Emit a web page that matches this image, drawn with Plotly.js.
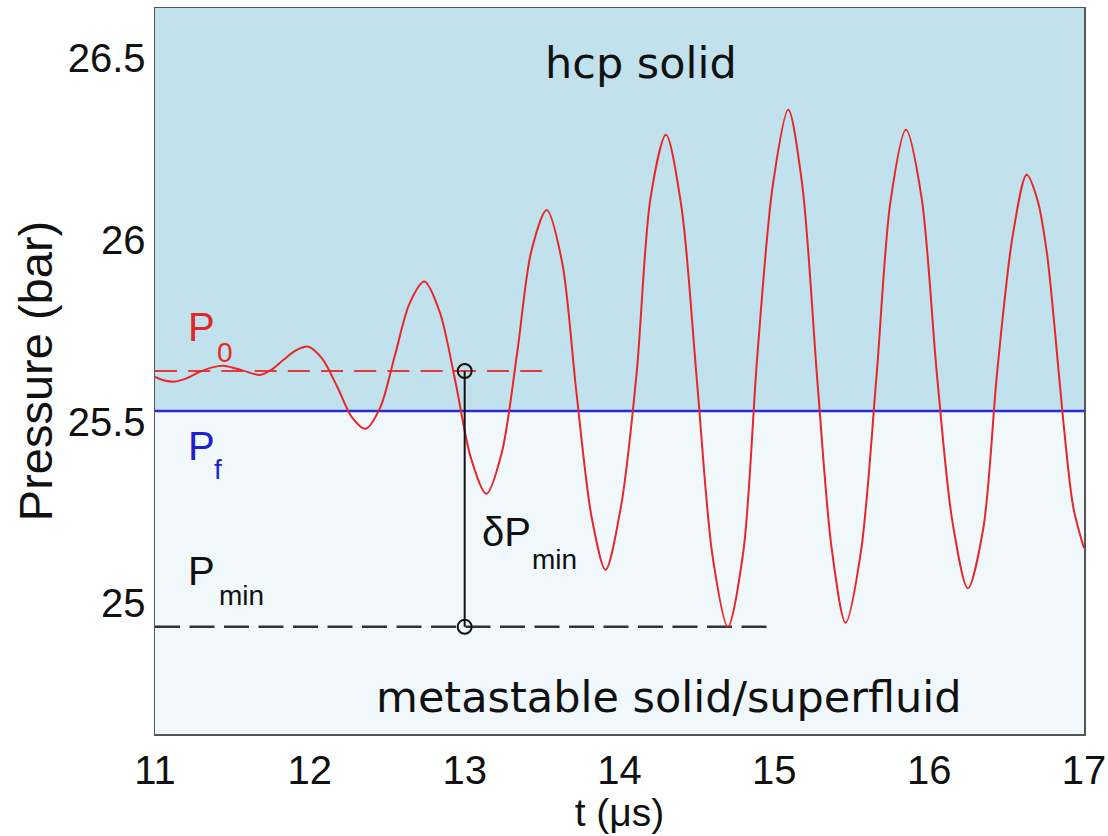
<!DOCTYPE html>
<html>
<head>
<meta charset="utf-8">
<script src="https://cdn.plot.ly/plotly-3.0.1.min.js"></script>
<style>
  html, body { margin: 0; padding: 0; background: #ffffff; }
  #chart { width: 1108px; height: 836px; }
</style>
</head>
<body>
<div id="chart"></div>
<script>
// ---- data ----
const time_us = [
  11.00, 11.06, 11.13, 11.21, 11.29, 11.37, 11.45, 11.57, 11.68, 11.76, 11.83, 11.91, 11.99,
  12.08, 12.18, 12.27, 12.36,
  12.455, 12.55, 12.645, 12.74,
  12.84, 12.94, 13.04, 13.14,
  13.24, 13.34, 13.43, 13.53,
  13.63, 13.72, 13.82, 13.91,
  14.01, 14.11, 14.20, 14.30,
  14.40, 14.50, 14.60, 14.70,
  14.80, 14.89, 14.99, 15.09,
  15.18, 15.28, 15.37, 15.46,
  15.56, 15.66, 15.75, 15.85,
  15.95, 16.05, 16.15, 16.25,
  16.35, 16.44, 16.54, 16.63,
  16.70, 16.76, 16.81, 16.86, 16.93, 17.00
];
const pressure_bar = [
  25.623, 25.613, 25.610, 25.620, 25.637, 25.649, 25.653, 25.640, 25.628, 25.645, 25.670, 25.696, 25.706,
  25.673, 25.593, 25.513, 25.480,
  25.539, 25.683, 25.826, 25.885,
  25.800, 25.610, 25.400, 25.301,
  25.415, 25.692, 25.968, 26.082,
  25.937, 25.587, 25.237, 25.092,
  25.267, 25.630, 26.114, 26.289,
  26.091, 25.612, 25.133, 24.935,
  25.143, 25.680, 26.150, 26.358,
  26.152, 25.600, 25.152, 24.946,
  25.144, 25.625, 26.105, 26.303,
  26.119, 25.630, 25.225, 25.041,
  25.207, 25.640, 26.013, 26.179,
  26.109, 25.965, 25.760, 25.529, 25.266, 25.151
];

const P0 = 25.639;      // initial pressure (dashed red)
const Pf = 25.529;      // freezing pressure (blue)
const Pmin = 24.935;    // minimum pressure (dashed black)
const tMark = 13.0;     // where delta P_min is marked
const tP0End = 13.5;
const tPminEnd = 14.95;

const xTicks = [11, 12, 13, 14, 15, 16, 17];
const yTicks = [25, 25.5, 26, 26.5];
const yTickText = ['25', '25.5', '26', '26.5'];
const xRange = [11, 17];
const yRange = [24.640, 26.638];

const regionTop = 'hcp solid';
const regionBottom = 'metastable solid/superfluid';
const xTitle = 't (μs)';
const yTitle = 'Pressure (bar)';

// ---- traces ----
const traces = [
  {
    x: [xRange[0], xRange[1]], y: [Pf, Pf], mode: 'lines',
    line: {color: '#2b2bd6', width: 2.5}, hoverinfo: 'skip', showlegend: false
  },
  {
    x: [xRange[0], tP0End], y: [P0, P0], mode: 'lines',
    line: {color: '#e23a3a', width: 2, dash: '22px,11.2px'}, hoverinfo: 'skip', showlegend: false
  },
  {
    x: [xRange[0], tPminEnd], y: [Pmin, Pmin], mode: 'lines',
    line: {color: '#333333', width: 2.5, dash: '25px,9.5px'}, hoverinfo: 'skip', showlegend: false
  },
  {
    x: time_us, y: pressure_bar, mode: 'lines',
    line: {color: '#e8262a', width: 2, shape: 'spline', smoothing: 0.85},
    showlegend: false
  },
  {
    x: [tMark, tMark], y: [P0, Pmin], mode: 'lines+markers',
    line: {color: '#111111', width: 2},
    marker: {symbol: 'circle-open', size: 14, color: '#111111', line: {width: 2, color: '#111111'}},
    hoverinfo: 'skip', showlegend: false
  }
];

const labelFont = (size, color) => ({family: 'Liberation Sans, Arial, sans-serif', size: size, color: color});
const textFont = {family: 'DejaVu Sans, sans-serif', size: 43, color: '#111111'};

const annotations = [
  {x: 14.14, y: 26.487, xref: 'x', yref: 'y', text: regionTop, showarrow: false, font: textFont},
  {x: 14.32, y: 24.742, xref: 'x', yref: 'y', text: regionBottom, showarrow: false, font: textFont},
  {x: 11.30, y: 25.760, xref: 'x', yref: 'y', text: 'P', showarrow: false, font: labelFont(40, '#e02828')},
  {x: 11.45, y: 25.689, xref: 'x', yref: 'y', text: '0', showarrow: false, font: labelFont(28, '#e02828')},
  {x: 11.30, y: 25.433, xref: 'x', yref: 'y', text: 'P', showarrow: false, font: labelFont(40, '#1f1fd0')},
  {x: 11.41, y: 25.367, xref: 'x', yref: 'y', text: 'f', showarrow: false, font: labelFont(28, '#1f1fd0')},
  {x: 11.30, y: 25.089, xref: 'x', yref: 'y', text: 'P', showarrow: false, font: labelFont(40, '#111111')},
  {x: 11.56, y: 25.020, xref: 'x', yref: 'y', text: 'min', showarrow: false, font: labelFont(28, '#111111')},
  {x: 13.27, y: 25.196, xref: 'x', yref: 'y', text: 'δP', showarrow: false, font: labelFont(40, '#111111')},
  {x: 13.58, y: 25.119, xref: 'x', yref: 'y', text: 'min', showarrow: false, font: labelFont(28, '#111111')}
];

const shapes = [
  {type: 'rect', xref: 'paper', yref: 'y', x0: 0, x1: 1, y0: Pf, y1: yRange[1],
   fillcolor: '#c1e2ec', line: {width: 0}, layer: 'below'},
  {type: 'rect', xref: 'paper', yref: 'y', x0: 0, x1: 1, y0: yRange[0], y1: Pf,
   fillcolor: '#f1f8fb', line: {width: 0}, layer: 'below'}
];

const layout = {
  width: 1108, height: 836,
  margin: {l: 155, r: 24, t: 8, b: 102},
  paper_bgcolor: '#ffffff', plot_bgcolor: '#f1f8fb',
  showlegend: false,
  xaxis: {
    range: xRange, tickvals: xTicks, ticktext: xTicks.map(String),
    showgrid: false, zeroline: false, ticks: '',
    showline: true, mirror: true, linecolor: '#555555', linewidth: 1.5,
    tickfont: labelFont(40, '#111111'),
    title: {text: xTitle, font: labelFont(39, '#111111'), standoff: 2}
  },
  yaxis: {
    range: yRange, tickvals: yTicks, ticktext: yTickText,
    showgrid: false, zeroline: false, ticks: '',
    showline: true, mirror: true, linecolor: '#555555', linewidth: 1.5,
    tickfont: labelFont(40, '#111111'),
    title: {text: yTitle, font: labelFont(47, '#111111'), standoff: 0}
  },
  shapes: shapes,
  annotations: annotations
};

Plotly.newPlot('chart', traces, layout, {displayModeBar: false, staticPlot: true});
</script>
</body>
</html>
